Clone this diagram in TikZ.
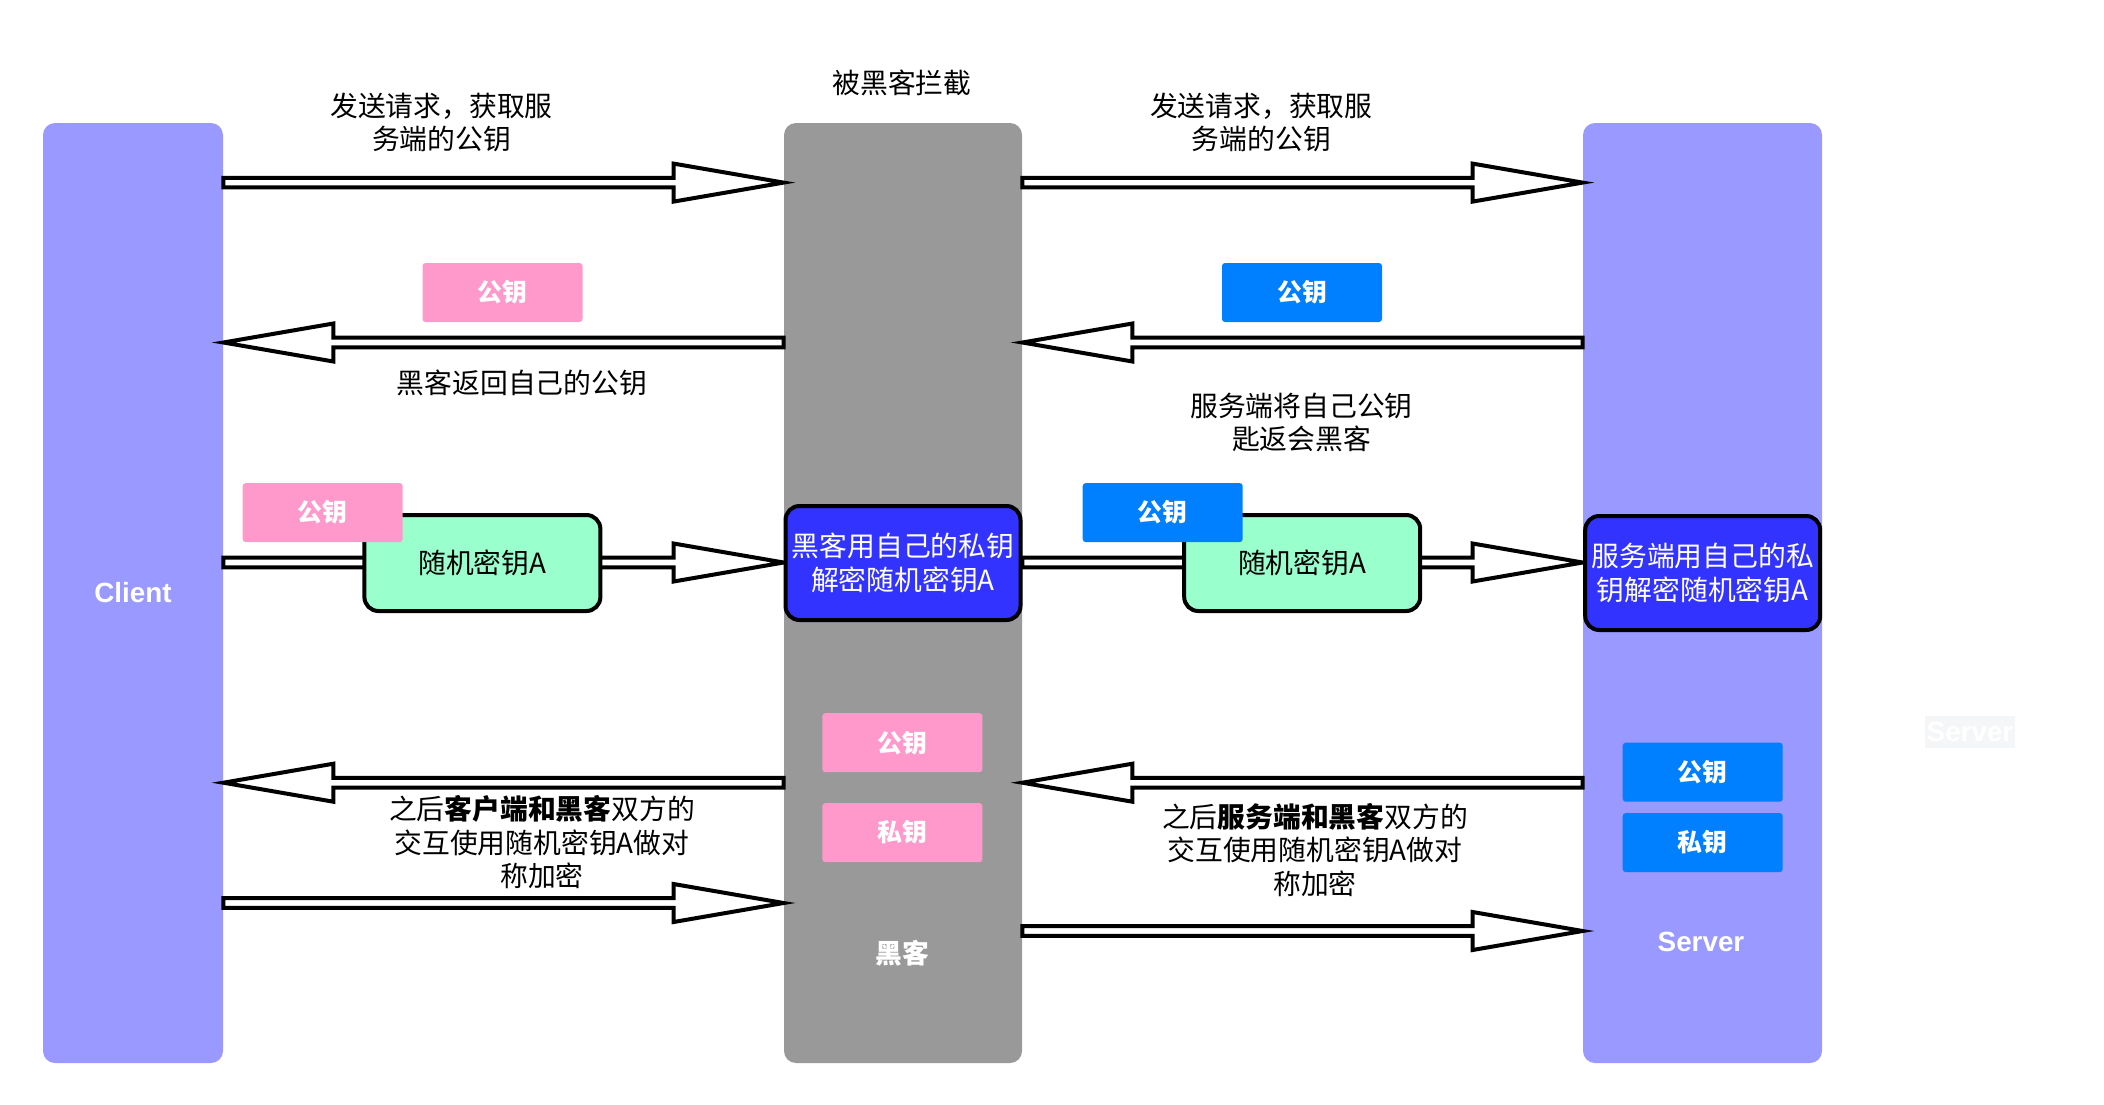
\documentclass[tikz,border=0pt]{standalone}
\usepackage{fontspec}
\setmainfont{Noto Sans CJK SC}
\newfontfamily\latinsans{Liberation Sans}
\usetikzlibrary{calc}

\definecolor{lavender}{HTML}{9999FF}
\definecolor{hackgray}{HTML}{999999}
\definecolor{keypink}{HTML}{FF99CC}
\definecolor{keyblue}{HTML}{007FFF}
\definecolor{deepblue}{HTML}{3333FF}
\definecolor{mint}{HTML}{99FFCC}
\definecolor{ghost}{HTML}{F5F6F8}

\newcommand{\labelfont}{\fontsize{13.9}{16.75}\selectfont}
\newcommand{\keyfont}{\fontsize{12.4}{14}\selectfont\bfseries}
\newcommand{\tagfont}{\fontsize{13.9}{16}\selectfont\latinsans\bfseries}

% hollow block arrow from #1 to #2 (same height)
\newcommand{\fatarrow}[2]{%
  \draw[line width=2pt, fill=white, line join=miter]
    let \p1=(#1), \p2=(#2), \p3=($(#2)!55pt!(#1)$) in
    (\x1,\y1+2.4pt) -- (\x3,\y1+2.4pt) -- (\x3,\y1+9.5pt) -- (\x2,\y1)
    -- (\x3,\y1-9.5pt) -- (\x3,\y1-2.4pt) -- (\x1,\y1-2.4pt) -- cycle;}

\begin{document}
\begin{tikzpicture}[x=0.5pt, y=-0.5pt,
  every node/.style={font=\labelfont},
  column/.style={rounded corners=6pt, inner sep=0pt, minimum height=470pt},
  keybox/.style={rounded corners=1.5pt, minimum width=80pt, minimum height=29.5pt, inner sep=0pt, text=white, font=\keyfont},
  randbox/.style={draw, line width=2pt, rounded corners=7pt, fill=mint, minimum width=118pt, minimum height=48pt},
  decbox/.style={draw, line width=2pt, rounded corners=7pt, fill=deepblue, text=white, align=center, inner sep=0pt, minimum width=117.5pt, minimum height=57pt},
  note/.style={align=center},
  tag/.style={text=white, font=\tagfont}]
  \useasboundingbox (0,0) rectangle (2104,1104);

  % Columns
  \node[column, fill=lavender, minimum width=90pt, tag] (client) at (133,593) {Client};
  \node[column, fill=hackgray, minimum width=119pt] (hacker) at (903,593) {};
  \node[column, fill=lavender, minimum width=119.5pt] (server) at (1702.5,593) {};
  \node[tag] (servertag) at (1701,942) {Server};
  \node[font=\fontsize{13.4}{16}\selectfont\bfseries, text=white] (hackertag) at (902,953) {黑客};
  \node[tag, fill=ghost, inner sep=1pt, minimum width=44pt, minimum height=16pt] (ghosttag) at (1970,732) {Server};
  \node (intercept) at (902,83) {被黑客拦截};

  % Rows
  \coordinate (r1) at (0,182.6);
  \coordinate (r2) at (0,342.5);
  \coordinate (r3) at (0,562.5);
  \coordinate (r4) at (0,782.7);
  \coordinate (r5) at (0,903);
  \coordinate (r6) at (0,931);

  % Request public key
  \fatarrow{client.east |- r1}{hacker.west |- r1}
  \fatarrow{hacker.east |- r1}{server.west |- r1}
  \node[note] (ask1) at (441.5,122.5) {发送请求，获取服\\务端的公钥};
  \node[note] (ask2) at (1261.3,122.5) {发送请求，获取服\\务端的公钥};

  % Return public key
  \fatarrow{hacker.west |- r2}{client.east |- r2}
  \fatarrow{server.west |- r2}{hacker.east |- r2}
  \node[keybox, fill=keypink] (pub1) at (502.5,292.5) {公钥};
  \node[keybox, fill=keyblue] (pub2) at (1302,292.5) {公钥};
  \node (back1) at (522,382.5) {黑客返回自己的公钥};
  \node[note] (back2) at (1301.5,422.7) {服务端将自己公钥\\匙返会黑客};

  % Random key A
  \fatarrow{client.east |- r3}{hacker.west |- r3}
  \fatarrow{hacker.east |- r3}{server.west |- r3}
  \node[randbox] (rand1) at (482.4,563) {随机密钥A};
  \node[randbox] (rand2) at (1302.2,563) {随机密钥A};
  \node[keybox, fill=keypink] (pub3) at (322.7,512.6) {公钥};
  \node[keybox, fill=keyblue] (pub4) at (1162.7,512.6) {公钥};
  \node[decbox] (hackbox) at (903,563) {黑客用自己的私钥\\解密随机密钥A};
  \node[decbox] (srvbox) at (1702.7,573) {服务端用自己的私\\钥解密随机密钥A};

  % Symmetric encryption afterwards
  \fatarrow{hacker.west |- r4}{client.east |- r4}
  \fatarrow{client.east |- r5}{hacker.west |- r5}
  \fatarrow{server.west |- r4}{hacker.east |- r4}
  \fatarrow{hacker.east |- r6}{server.west |- r6}
  \node[note] (after1) at (542,842.5) {之后\textbf{客户端和黑客}双方的\\交互使用随机密钥A做对\\称加密};
  \node[note] (after2) at (1315,850) {之后\textbf{服务端和黑客}双方的\\交互使用随机密钥A做对\\称加密};

  % Keys held
  \node[keybox, fill=keypink] (hpub) at (902.4,742.7) {公钥};
  \node[keybox, fill=keypink] (hpriv) at (902.4,832.6) {私钥};
  \node[keybox, fill=keyblue] (spub) at (1702.7,772.2) {公钥};
  \node[keybox, fill=keyblue] (spriv) at (1702.7,842.6) {私钥};
\end{tikzpicture}
\end{document}
